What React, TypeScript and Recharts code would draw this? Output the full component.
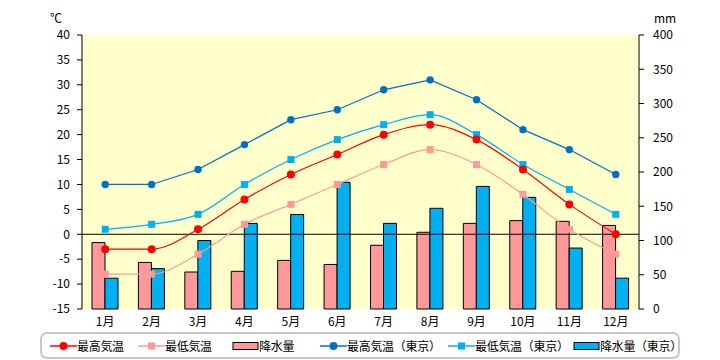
import { ComposedChart, Bar, Line, XAxis, YAxis, CartesianGrid, ReferenceLine, Legend } from "recharts";

const months = ["1月", "2月", "3月", "4月", "5月", "6月", "7月", "8月", "9月", "10月", "11月", "12月"];
const maxTemp = [-3, -3, 1, 7, 12, 16, 20, 22, 19, 13, 6, 0];
const minTemp = [-8, -8, -4, 2, 6, 10, 14, 17, 14, 8, 1, -4];
const precip = [97, 68, 54, 55, 71, 65, 93, 112, 125, 129, 128, 122];
const tokyoMax = [10, 10, 13, 18, 23, 25, 29, 31, 27, 21, 17, 12];
const tokyoMin = [1, 2, 4, 10, 15, 19, 22, 24, 20, 14, 9, 4];
const tokyoPrecip = [45, 59, 100, 125, 138, 185, 125, 147, 179, 163, 89, 45];
const tempTicks = [-15, -10, -5, 0, 5, 10, 15, 20, 25, 30, 35, 40];
const mmTicks = [0, 50, 100, 150, 200, 250, 300, 350, 400];

const data = months.map((m, i) => ({
  month: m,
  maxTemp: maxTemp[i],
  minTemp: minTemp[i],
  precip: precip[i],
  tokyoMax: tokyoMax[i],
  tokyoMin: tokyoMin[i],
  tokyoPrecip: tokyoPrecip[i],
}));

const FONT = "'Noto Sans CJK JP', sans-serif";

const square = (color: string) => (p: any) =>
  p.cx == null ? <g key={p.index} /> : <rect key={p.index} x={p.cx - 3.5} y={p.cy - 3.5} width={7} height={7} fill={color} />;

// x = left edge of icon, relative to the legend box
const legendItems = [
  { label: "最高気温", kind: "circle", color: "#ff0000", x: 8 },
  { label: "最低気温", kind: "square", color: "#ff9999", x: 96 },
  { label: "降水量", kind: "bar", color: "#ff9999", x: 190 },
  { label: "最高気温（東京）", kind: "circle", color: "#0070c0", x: 278 },
  { label: "最低気温（東京）", kind: "square", color: "#00b0f0", x: 406 },
  { label: "降水量（東京）", kind: "bar", color: "#00b0f0", x: 531 },
];

function LegendBox() {
  return (
    <div
      style={{
        position: "relative",
        width: 636,
        height: 23,
        border: "2px solid #c8c8c8",
        borderRadius: 7,
        background: "#fff",
        fontFamily: FONT,
        fontSize: 12,
        color: "#000",
      }}
    >
      {legendItems.map((it) => (
        <div key={it.label} style={{ position: "absolute", left: it.x, top: 2, display: "flex", alignItems: "center", height: 19 }}>
          <svg width={27} height={12}>
            {it.kind === "bar" ? (
              <rect x={1} y={2.5} width={25} height={7} fill={it.color} stroke="#000" />
            ) : (
              <>
                <line x1={0} y1={6} x2={27} y2={6} stroke={it.color} strokeWidth={1.5} />
                {it.kind === "circle" ? (
                  <circle cx={13.5} cy={6} r={4} fill={it.color} />
                ) : (
                  <rect x={10} y={2.5} width={7} height={7} fill={it.color} />
                )}
              </>
            )}
          </svg>
          <span style={{ whiteSpace: "nowrap", letterSpacing: -0.3 }}>{it.label}</span>
        </div>
      ))}
    </div>
  );
}

export default function App() {
  return (
    <div style={{ position: "absolute", left: 0, top: 0, width: 720, height: 360, background: "#fff" }}>
      <div style={{ position: "absolute", left: 50, top: 9, fontFamily: FONT, fontSize: 12 }}>℃</div>
      <div style={{ position: "absolute", left: 654, top: 9, fontFamily: FONT, fontSize: 12 }}>mm</div>
      <ComposedChart
        width={720}
        height={360}
        data={data}
        margin={{ top: 35, right: 0, left: 0, bottom: 0 }}
        barGap={0}
        barSize={13}
      >
        <CartesianGrid fill="#ffffcc" horizontal={false} vertical={false} yAxisId="t" />
        <XAxis
          dataKey="month"
          axisLine={false}
          tickLine={false}
          height={24}
          tick={{ fontFamily: FONT, fontSize: 12, fill: "#000" }}
        />
        <YAxis
          yAxisId="t"
          domain={[-15, 40]}
          ticks={tempTicks}
          width={82}
          stroke="#000"
          tickSize={5}
          tick={{ fontFamily: FONT, fontSize: 12, fill: "#000" }}
          tickMargin={7}
          interval={0}
        />
        <YAxis
          yAxisId="mm"
          orientation="right"
          domain={[0, 400]}
          ticks={mmTicks}
          width={81}
          stroke="#000"
          tickSize={5}
          tick={{ fontFamily: FONT, fontSize: 12, fill: "#000" }}
          tickMargin={9}
          interval={0}
        />
        <Bar yAxisId="mm" dataKey="precip" fill="#ff9999" stroke="#000" strokeWidth={1} isAnimationActive={false} />
        <Bar yAxisId="mm" dataKey="tokyoPrecip" fill="#00b0f0" stroke="#000" strokeWidth={1} isAnimationActive={false} />
        <ReferenceLine yAxisId="t" y={0} stroke="#000" strokeWidth={1} />
        <Line
          yAxisId="t"
          type="linear"
          dataKey="tokyoMax"
          stroke="#0070c0"
          strokeWidth={1.2}
          dot={{ r: 3.7, fill: "#0070c0", stroke: "none" }}
          isAnimationActive={false}
        />
        <Line
          yAxisId="t"
          type="monotone"
          dataKey="tokyoMin"
          stroke="#00b0f0"
          strokeWidth={1.2}
          dot={square("#00b0f0")}
          isAnimationActive={false}
        />
        <Line
          yAxisId="t"
          type="monotone"
          dataKey="minTemp"
          stroke="#ff9999"
          strokeWidth={1.2}
          dot={square("#ff9999")}
          isAnimationActive={false}
        />
        <Line
          yAxisId="t"
          type="monotone"
          dataKey="maxTemp"
          stroke="#ff0000"
          strokeWidth={1.2}
          dot={{ r: 4, fill: "#ff0000", stroke: "none" }}
          isAnimationActive={false}
        />
        <Legend
          content={() => <LegendBox />}
          wrapperStyle={{ left: 40, top: 332, bottom: "auto", width: 650, height: 27 }}
        />
      </ComposedChart>
    </div>
  );
}
